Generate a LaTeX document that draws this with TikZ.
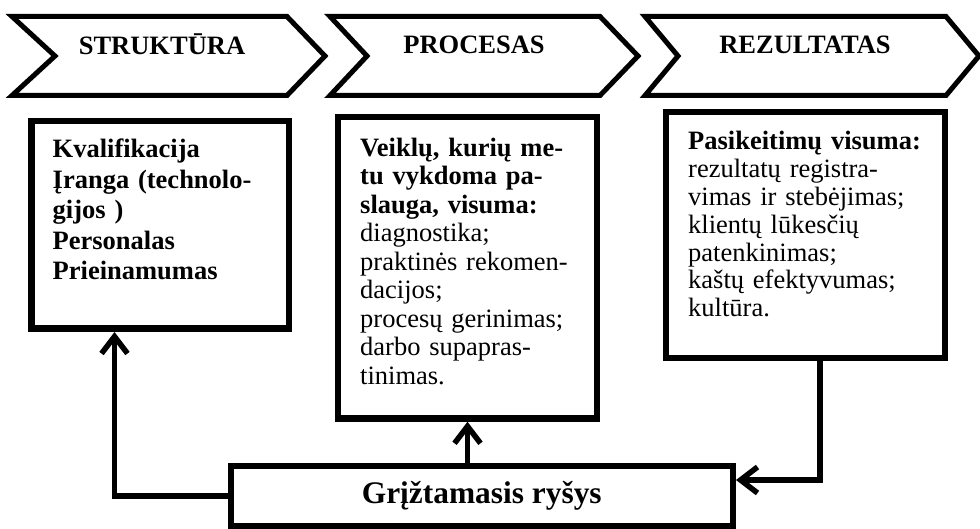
\documentclass[tikz,border=0pt]{standalone}
\usepackage{fontspec}
\setmainfont{Liberation Serif}
\usetikzlibrary{arrows.meta}
\begin{document}
\begin{tikzpicture}[x=1pt,y=-1pt,
  chev/.style={draw,line width=5pt,miter limit=10},
  head/.style={font=\fontsize{26.5}{30}\selectfont\bfseries,inner sep=0pt,anchor=base},
  box/.style={draw,line width=6.5pt,rectangle,inner sep=0pt},
  body/.style={inner sep=0pt,anchor=base west,text width=270pt,align=left},
  arr/.style={line width=5.5pt,-{Straight Barb[length=17pt,width=26pt]}}]
\useasboundingbox (0,0) rectangle (980,529);
% chevrons
\draw[chev] (12,16.5) -- (287,16.5) -- (325,56) -- (287,95.5) -- (12,95.5) -- (55,56) -- cycle;
\draw[chev] (330,16.5) -- (600,16.5) -- (638,56) -- (600,95.5) -- (330,95.5) -- (367,56) -- cycle;
\draw[chev] (645,16.5) -- (946,16.5) -- (979,56) -- (946,95.5) -- (645,95.5) -- (678,56) -- cycle;
\node[head] (h1) at (162,55) {STRUKTŪRA};
\node[head] (h2) at (474,54) {PROCESAS};
\node[head] (h3) at (805,54) {REZULTATAS};
% boxes
\node[box,minimum width=257.5pt,minimum height=207.5pt] (b1) at (160,225) {};
\node[box,minimum width=259pt,minimum height=301.5pt] (b2) at (467.5,267.75) {};
\node[box,minimum width=279pt,minimum height=246pt] (b3) at (805.5,235) {};
\node[box,line width=6pt,minimum width=502.5pt,minimum height=60pt,
      font=\fontsize{31.4}{34}\selectfont\bfseries] (fb) at (481.75,496) {Grįžtamasis ryšys};
% texts
\node[body,font=\fontsize{26.5}{30.5}\selectfont\bfseries] (t1) at (52.5,158)
  {Kvalifikacija\\Įranga (technolo-\\gijos )\\Personalas\\Prieinamumas};
\node[body,font=\fontsize{26.5}{28.5}\selectfont] (t2) at (360,156.5)
  {\textbf{Veiklų, kurių me-}\\\textbf{tu vykdoma pa-}\\\textbf{slauga, visuma:}\\diagnostika;\\praktinės rekomen-\\dacijos;\\procesų gerinimas;\\darbo supapras-\\tinimas.};
\node[body,font=\fontsize{26.5}{27.8}\selectfont] (t3) at (688,150)
  {\textbf{Pasikeitimų visuma:}\\rezultatų registra-\\vimas ir stebėjimas;\\klientų lūkesčių\\patenkinimas;\\kaštų efektyvumas;\\kultūra.};
% connectors
\draw[arr] (fb.west) -| ([xshift=-45.5pt]b1.south);
\draw[arr] (fb.north -| b2.south) -- (b2.south);
\draw[arr] ([xshift=14.5pt]b3.south) |- ([yshift=16pt]fb.east);
\end{tikzpicture}
\end{document}
